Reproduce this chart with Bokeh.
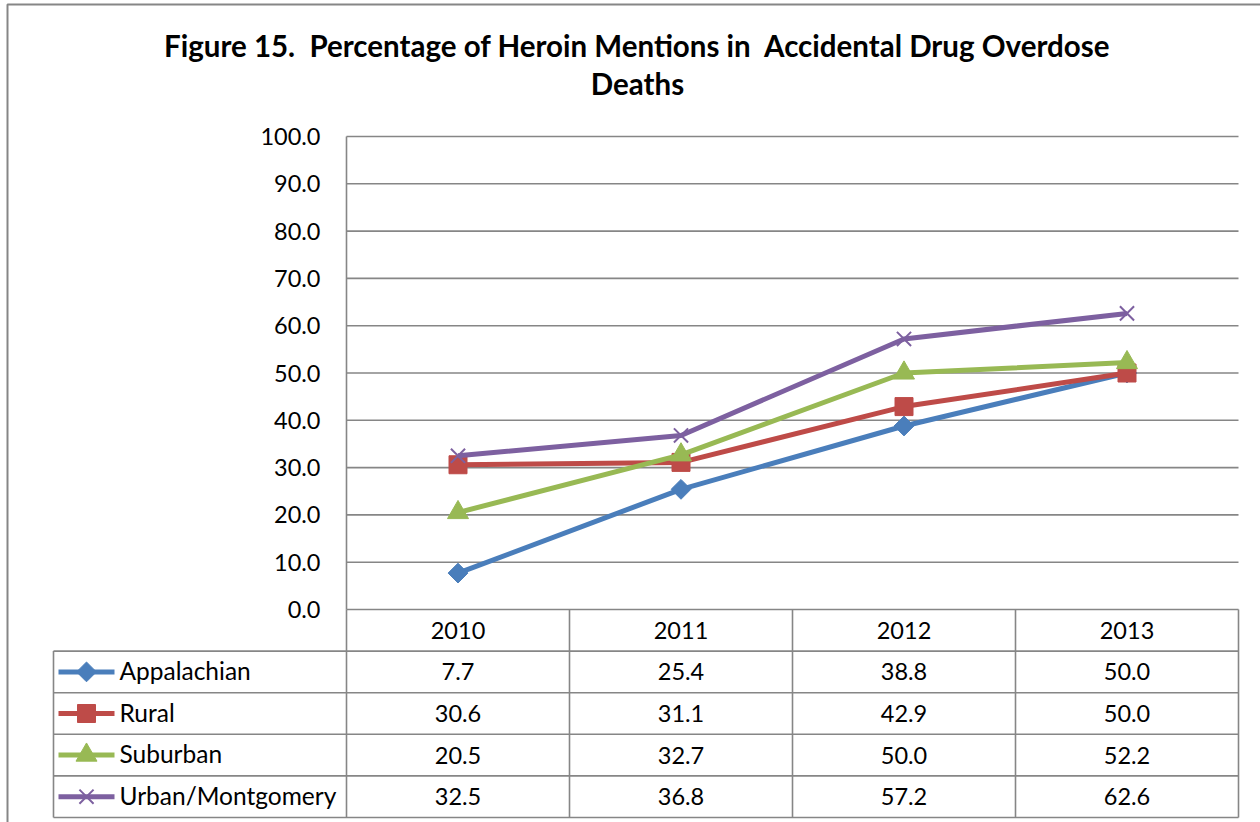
import numpy as np
from bokeh.plotting import figure
from bokeh.models import Range1d, LinearAxis, FixedTicker, PrintfTickFormatter
from bokeh.core.properties import value
from bokeh.embed import file_html
from bokeh.resources import INLINE

# ---------------- data ----------------
years = ["2010", "2011", "2012", "2013"]
series_names = ["Appalachian", "Rural", "Suburban", "Urban/Montgomery"]
appalachian = [7.7, 25.4, 38.8, 50.0]
rural = [30.6, 31.1, 42.9, 50.0]
suburban = [20.5, 32.7, 50.0, 52.2]
urban = [32.5, 36.8, 57.2, 62.6]
y_ticks = [0, 10, 20, 30, 40, 50, 60, 70, 80, 90, 100]
title_lines = ["Figure 15.\u00a0 Percentage of Heroin Mentions in\u00a0 Accidental Drug Overdose",
               "Deaths"]

# ---------------- layout (pixels) ----------------
W, H = 1260, 822
PX_LEFT, PX_RIGHT, PX_TOP, PX_ZERO = 346, 1238, 136, 609
TABLE_LEFT = 53
ROW_PX = 41.6
CW = (PX_RIGHT - PX_LEFT) / len(years)
S = (PX_ZERO - PX_TOP) / 100.0

def dx(px):
    return (px - PX_LEFT) / CW

def dy(py):
    return (PX_ZERO - py) / S

R = ROW_PX / S  # table row height in data units
GRID = "#868686"
FONT = "Lato"
colors = ["#4A7EBB", "#BE4B48", "#98B954", "#7D60A0"]
markers = ["diamond", "square", "triangle", "x"]
values = [appalachian, rural, suburban, urban]

p = figure(width=W, height=H, x_range=Range1d(dx(0), dx(W)), y_range=Range1d(dy(H), dy(0)),
           output_backend="svg", toolbar_location=None,
           x_axis_location=None, y_axis_location=None, min_border=0,
           outline_line_color=None, background_fill_color="white", border_fill_color="white")
p.grid.visible = False

# outer chart border (left + top visible)
p.line(x=[dx(7), dx(7), dx(W + 10)], y=[dy(H + 10), dy(4), dy(4)], line_color=GRID, line_width=2)

# horizontal gridlines
n = len(y_ticks)
p.segment(x0=[0] * n, x1=[len(years)] * n, y0=y_ticks, y1=y_ticks, line_color=GRID, line_width=1.6)

# y axis
yaxis = LinearAxis(ticker=FixedTicker(ticks=y_ticks), formatter=PrintfTickFormatter(format="%.1f"),
                   fixed_location=0, bounds=(0, 100), axis_line_color=GRID, axis_line_width=1.6,
                   major_tick_in=0, major_tick_out=0, minor_tick_line_color=None,
                   major_label_standoff=26, major_label_text_font=FONT,
                   major_label_text_font_size="23.5px", major_label_text_color="black")
p.add_layout(yaxis, "left")

# data table grid
nrows = len(series_names)
hy = [-(k + 1) * R for k in range(nrows + 1)]
p.segment(x0=[dx(TABLE_LEFT)] * len(hy), x1=[len(years)] * len(hy), y0=hy, y1=hy,
          line_color=GRID, line_width=1.6)
vx = list(range(len(years) + 1))
p.segment(x0=vx, x1=vx, y0=[0] * len(vx), y1=[-(nrows + 1) * R] * len(vx), line_color=GRID, line_width=1.6)
p.segment(x0=[dx(TABLE_LEFT)], x1=[dx(TABLE_LEFT)], y0=[-R], y1=[-(nrows + 1) * R],
          line_color=GRID, line_width=1.6)

xc = [i + 0.5 for i in range(len(years))]

# header labels
p.text(x=xc, y=[-0.5 * R] * len(years), text=years, text_font=value(FONT), text_font_size="23.5px",
       text_align="center", text_baseline="middle", text_color="black")

# series lines + markers + table rows
lx0, lx1, ltx = dx(58), dx(114), dx(119)
for k, (name, vals, c, m) in enumerate(zip(series_names, values, colors, markers)):
    p.line(x=xc, y=vals, line_color=c, line_width=5)
    yr = -(k + 1.5) * R
    p.line(x=[lx0, lx1], y=[yr, yr], line_color=c, line_width=5)
    if m == "diamond":
        kw = dict(marker="square", angle=np.pi / 4, size=14, fill_color=c, line_color=c)
    elif m == "square":
        kw = dict(marker="square", size=18, fill_color=c, line_color=c)
    elif m == "triangle":
        kw = dict(marker="triangle", size=21, fill_color=c, line_color=c)
    else:
        kw = dict(marker="x", size=20, line_color=c, line_width=2)
    p.scatter(x=xc, y=vals, **kw)
    p.scatter(x=[(lx0 + lx1) / 2], y=[yr], **kw)
    p.text(x=[ltx], y=[yr + 0.3], text=[name], text_font=value(FONT), text_font_size="24.5px",
           text_align="left", text_baseline="middle", text_color="black")
    p.text(x=xc, y=[yr] * len(vals), text=["%.1f" % v for v in vals], text_font=value(FONT),
           text_font_size="23.5px", text_align="center", text_baseline="middle", text_color="black")

# title
p.text(x=[dx(637)] * 2, y=[dy(45), dy(83)], text=title_lines, text_font=value(FONT),
       text_font_size="29.5px", text_font_style="bold", text_align="center", text_baseline="middle",
       text_color="black")

open("out.html", "w").write(file_html(p, INLINE))
